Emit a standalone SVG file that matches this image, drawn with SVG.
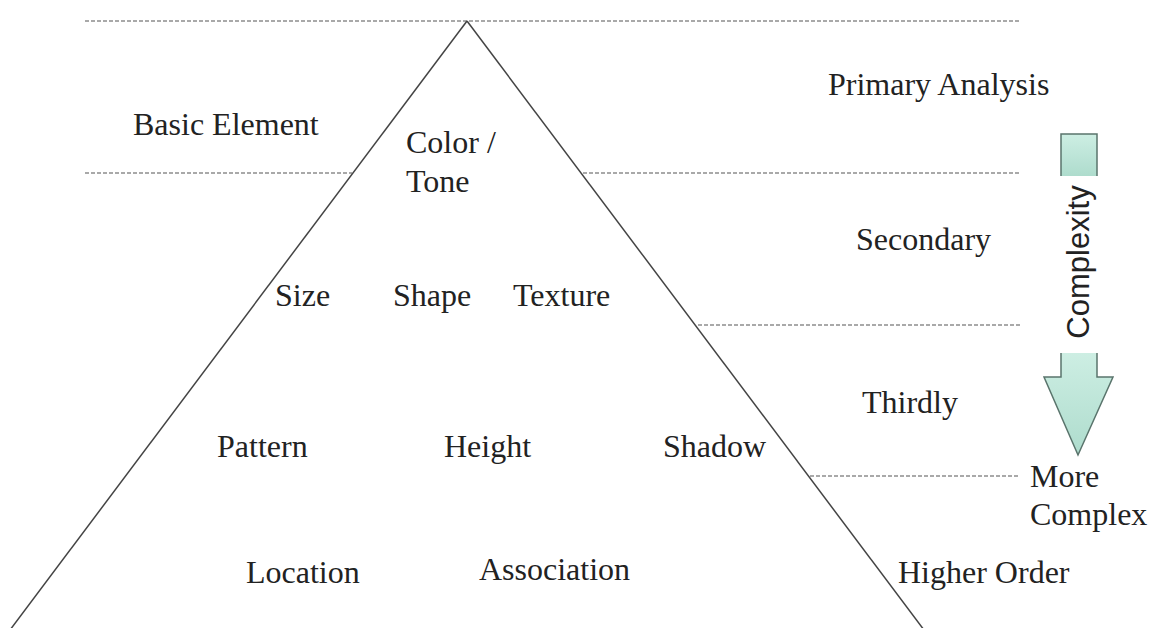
<svg xmlns="http://www.w3.org/2000/svg" width="1154" height="628" viewBox="0 0 1154 628">
<style>
.t{font-family:"Liberation Serif","Times New Roman",serif;font-size:32px;fill:#222}
.d{stroke:#555;stroke-width:1.2;stroke-dasharray:4 2;fill:none}
.s{stroke:#444;stroke-width:1.5;fill:none}
.a{fill:url(#g);stroke:#5a746c;stroke-width:1.5}
</style>
<defs>
<linearGradient id="g" x1="0" y1="0" x2="0" y2="1">
<stop offset="0" stop-color="#cdeee3"/>
<stop offset="1" stop-color="#aedccd"/>
</linearGradient>
</defs>
<rect width="1154" height="628" fill="#fff"/>
<g id="connectors">
<line class="d" x1="85" y1="21" x2="1020" y2="21"/>
<line class="d" x1="85" y1="173" x2="352" y2="173"/>
<line class="d" x1="583" y1="173" x2="1020" y2="173"/>
<line class="d" x1="698" y1="325" x2="1020" y2="325"/>
<line class="d" x1="810" y1="476" x2="1020" y2="476"/>
<line class="s" x1="467" y1="21" x2="10" y2="630"/>
<line class="s" x1="467" y1="21" x2="924" y2="630"/>
</g>
<g id="arrow">
<path class="a" d="M1061,176 L1061,134 L1097,134 L1097,176"/>
<path class="a" d="M1061,353 L1061,377 L1044,377 L1078,455 L1113,377 L1097,377 L1097,353"/>
<text x="1089" y="262" transform="rotate(-90 1089 262)" text-anchor="middle" style="font-family:'Liberation Sans',Arial,sans-serif;font-size:31px;fill:#222">Complexity</text>
</g>
<g id="primary"><text class="t" x="828" y="95">Primary Analysis</text></g>
<g id="basic"><text class="t" x="133" y="135">Basic Element</text></g>
<g id="color"><text class="t" x="406" y="153">Color /</text><text class="t" x="406" y="192">Tone</text></g>
<g id="secondary"><text class="t" x="856" y="250">Secondary</text></g>
<g id="size"><text class="t" x="275" y="306">Size</text></g>
<g id="shape"><text class="t" x="393" y="306">Shape</text></g>
<g id="texture"><text class="t" x="513" y="306">Texture</text></g>
<g id="thirdly"><text class="t" x="862" y="413">Thirdly</text></g>
<g id="pattern"><text class="t" x="217" y="457">Pattern</text></g>
<g id="height"><text class="t" x="444" y="457">Height</text></g>
<g id="shadow"><text class="t" x="663" y="457">Shadow</text></g>
<g id="more"><text class="t" x="1030" y="487">More</text><text class="t" x="1030" y="525">Complex</text></g>
<g id="location"><text class="t" x="246" y="583">Location</text></g>
<g id="association"><text class="t" x="479" y="580">Association</text></g>
<g id="higher"><text class="t" x="898" y="583">Higher Order</text></g>
</svg>
